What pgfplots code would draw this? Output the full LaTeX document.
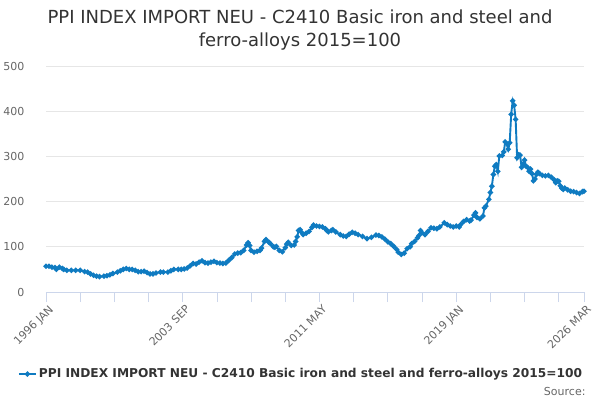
\documentclass[border=0pt]{standalone}
\usepackage{fontspec}
\setmainfont{DejaVu Sans}
\usepackage{pgfplots}
\pgfplotsset{compat=1.18}
\definecolor{gridgray}{HTML}{E6E6E6}
\definecolor{axisblue}{HTML}{CCD6EB}
\definecolor{textgray}{HTML}{666666}
\definecolor{titlegray}{HTML}{333333}
\definecolor{series}{HTML}{0F7BC1}
\begin{document}
\begin{tikzpicture}
\useasboundingbox (0,0) rectangle (600pt,400pt);
\node[anchor=base, text=titlegray, font=\fontsize{18pt}{21pt}\selectfont] at (300pt,376pt) {PPI INDEX IMPORT NEU - C2410 Basic iron and steel and};
\node[anchor=base, text=titlegray, font=\fontsize{18pt}{21pt}\selectfont] at (300pt,353pt) {ferro-alloys 2015=100};
\begin{axis}[
  at={(46pt,108pt)}, anchor=south west,
  scale only axis, width=538pt, height=226pt,
  xmin=0, xmax=362, ymin=0, ymax=500,
  axis x line=bottom, axis y line=left,
  axis line style={-},
  x axis line style={color=axisblue, line width=0.8pt},
  y axis line style={draw=none},
  ytick={0,100,...,500},
  ymajorgrids, grid style={color=gridgray, line width=0.8pt},
  xtick={0,92,184,276,362},
  xticklabels={1996 JAN,2003 SEP,2011 MAY,2019 JAN,2026 MAR},
  extra x ticks={23,46,69,115,138,161,207,230,253,299,322,345},
  extra x tick labels={},
  extra x tick style={grid=none, tick style={color=axisblue, line width=0.8pt}},
  tick align=outside,
  x tick style={color=axisblue, line width=0.8pt},
  major tick length=10pt,
  y tick style={draw=none},
  /pgf/number format/assume math mode=true,
  ticklabel style={font=\fontsize{11pt}{13pt}\selectfont, text=textgray},
  yticklabel style={anchor=east, xshift=-8pt},
  xticklabel style={rotate=45, anchor=north east, inner sep=1pt, xshift=1pt, yshift=-2pt},
  clip=false,
  legend style={at={(0.474,-0.363)}, anchor=center, draw=none, fill=none,
    font=\bfseries\fontsize{12.2pt}{14pt}\selectfont, text=titlegray},
  legend cell align=left,
]
\addplot[color=series, line width=1.9pt, mark=*, mark size=1.6pt, mark options={solid, fill=series}] coordinates {
(0,57) (2,57) (4,55) (6,54) (7,50) (9,55) (11,52) (12,50) (14,48) (17,48)
(20,48) (23,48) (26,45) (28,44) (30,40) (32,37) (34,35) (36,34) (39,35) (41,36)
(43,38) (45,41) (48,44) (50,47) (52,50) (54,52) (56,50) (58,50) (60,48) (62,45)
(64,45) (66,46) (68,43) (70,40) (72,40) (74,42) (77,44) (79,44) (82,44) (84,47)
(86,50) (89,50) (91,50) (93,51) (95,53) (97,58) (99,63) (101,62) (103,66) (105,69)
(107,65) (109,64) (111,66) (113,68) (115,65) (117,64) (119,63) (121,64) (123,70) (125,76)
(127,84) (129,86) (131,87) (133,92) (135,104) (136,109) (137,103) (138,92) (140,88) (142,90)
(144,92) (145,97) (147,112) (148,116) (150,110) (151,107) (153,100) (154,99) (155,101) (157,92)
(159,89) (161,98) (162,106) (163,110) (165,103) (167,104) (168,112) (169,122) (170,136) (171,138)
(172,132) (173,127) (175,130) (177,134) (179,143) (180,148) (182,146) (184,145) (186,144) (188,140)
(189,136) (190,133) (192,136) (193,138) (195,133) (198,127) (200,124) (202,123) (204,128) (206,132)
(208,130) (210,127) (213,123) (216,118) (219,121) (222,126) (224,125) (226,122) (228,117) (230,111)
(232,107) (234,101) (236,94) (237,88) (239,83) (241,86) (243,96) (245,100) (246,107) (248,112)
(250,120) (251,125) (252,136) (253,131) (255,127) (257,134) (259,142) (261,141) (263,140) (265,144)
(268,153) (270,149) (272,146) (274,144) (276,146) (278,144) (279,149) (281,156) (283,160) (285,157)
(286,159) (288,170) (289,175) (290,165) (292,162) (294,168) (295,186) (296,190) (298,205) (299,220)
(300,234) (301,260) (302,278) (303,282) (304,267) (305,301) (307,302) (308,310) (309,332) (310,328)
(311,316) (312,330) (313,393) (314,423) (315,413) (316,382) (317,297) (318,304) (319,303) (320,276)
(321,283) (322,292) (323,278) (324,276) (325,267) (326,272) (327,262) (328,246) (329,250) (330,260)
(331,265) (332,262) (334,258) (336,257) (338,258) (340,254) (342,248) (343,242) (344,246) (345,245)
(346,235) (347,230) (348,227) (349,230) (351,226) (353,223) (355,222) (357,220) (359,218) (361,222)
(362,223)
};
\addlegendentry{PPI INDEX IMPORT NEU - C2410 Basic iron and steel and ferro-alloys 2015=100}
\end{axis}
\node[anchor=base east, text=textgray, font=\fontsize{11pt}{13pt}\selectfont] at (589pt,5pt) {Source:};
\end{tikzpicture}
\end{document}
